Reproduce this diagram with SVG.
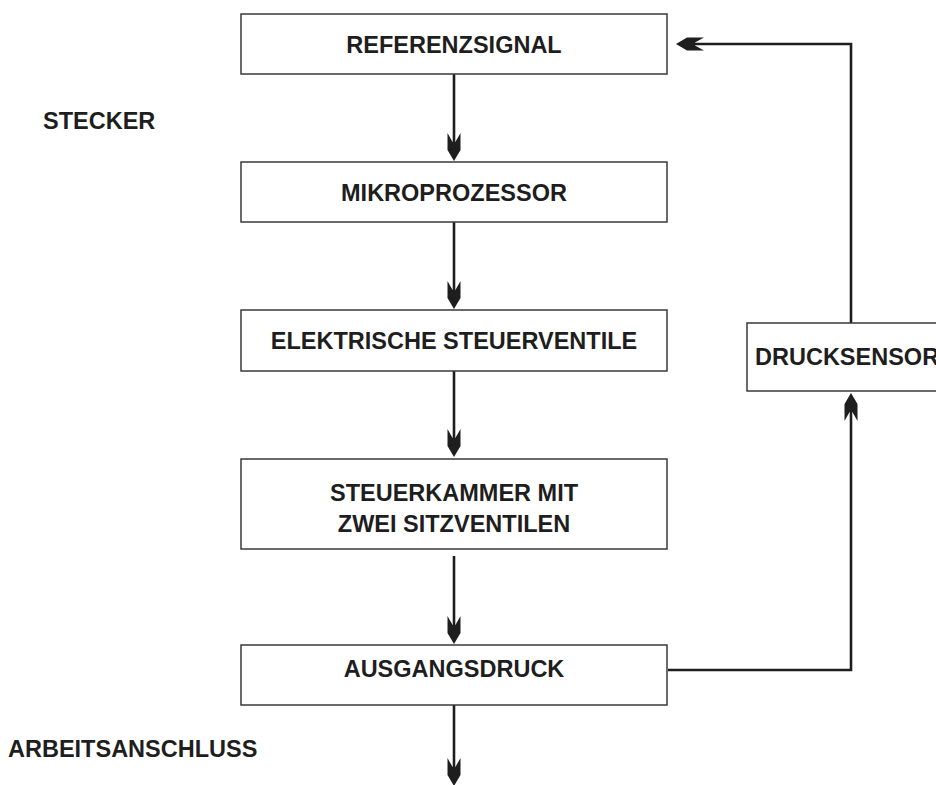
<svg xmlns="http://www.w3.org/2000/svg" width="936" height="785" viewBox="0 0 936 785">
  <style>
    .box { fill: #ffffff; stroke: #3a3a3a; stroke-width: 1.5; }
    .lbl { font-family: "Liberation Sans", Arial, sans-serif; font-weight: bold; font-size: 23.5px; fill: #1e1e1e; }
    .mid { text-anchor: middle; }
    .wire { fill: none; stroke: #1e1e1e; stroke-width: 2.6; }
    .head { fill: #1e1e1e; }
  </style>
  <defs>
    <!-- notched arrowhead pointing down, tip at origin -->
    <path id="head" class="head" d="M0 0 L-6.5 -11 L-6.5 -28 L-1.4 -19 L0 -20 L1.4 -19 L6.5 -28 L6.5 -11 Z"/>
  </defs>

  <rect width="936" height="785" fill="#ffffff"/>

  <!-- connectors -->
  <g id="connectors">
    <path class="wire" d="M454 74 V150"/>
    <use href="#head" transform="translate(454 161)"/>
    <path class="wire" d="M454 222 V298"/>
    <use href="#head" transform="translate(454 309)"/>
    <path class="wire" d="M454 371 V446"/>
    <use href="#head" transform="translate(454 457)"/>
    <path class="wire" d="M454 556 V633"/>
    <use href="#head" transform="translate(454 644)"/>
    <path class="wire" d="M454 705 V775"/>
    <use href="#head" transform="translate(454 786)"/>
    <!-- feedback loop -->
    <path class="wire" d="M668 670 H851 V404"/>
    <use href="#head" transform="translate(851 393) rotate(180)"/>
    <path class="wire" d="M851 323 V44 H688"/>
    <use href="#head" transform="translate(676 44) rotate(90)"/>
  </g>

  <g id="referenzsignal">
    <rect class="box" x="241" y="14" width="426" height="60"/>
    <text class="lbl mid" x="454" y="53">REFERENZSIGNAL</text>
  </g>
  <g id="mikroprozessor">
    <rect class="box" x="241" y="162" width="426" height="60"/>
    <text class="lbl mid" x="454" y="201">MIKROPROZESSOR</text>
  </g>
  <g id="steuerventile">
    <rect class="box" x="241" y="310" width="426" height="61"/>
    <text class="lbl mid" x="454" y="349">ELEKTRISCHE STEUERVENTILE</text>
  </g>
  <g id="steuerkammer">
    <rect class="box" x="241" y="459" width="426" height="90"/>
    <text class="lbl mid" x="454" y="501">STEUERKAMMER MIT</text>
    <text class="lbl mid" x="454" y="532">ZWEI SITZVENTILEN</text>
  </g>
  <g id="ausgangsdruck">
    <rect class="box" x="241" y="645" width="426" height="60"/>
    <text class="lbl mid" x="454" y="677">AUSGANGSDRUCK</text>
  </g>
  <g id="drucksensor">
    <rect class="box" x="747" y="323" width="230" height="68"/>
    <text class="lbl" x="755" y="365">DRUCKSENSOR</text>
  </g>
  <g id="stecker">
    <text class="lbl" x="43" y="129">STECKER</text>
  </g>
  <g id="arbeitsanschluss">
    <text class="lbl" x="8" y="757">ARBEITSANSCHLUSS</text>
  </g>
</svg>
